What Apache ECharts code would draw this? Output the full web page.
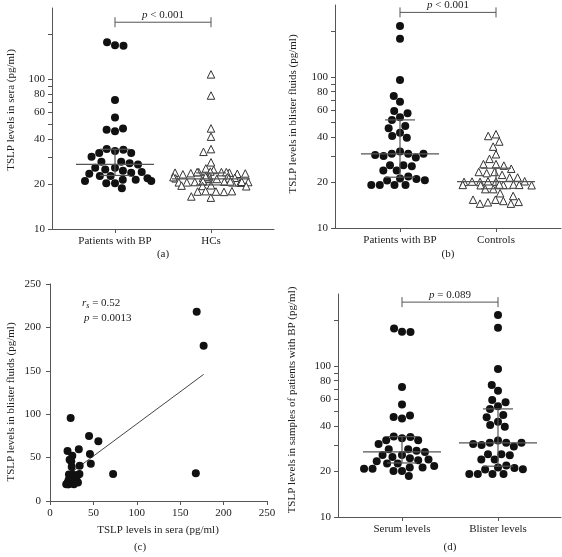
<!DOCTYPE html>
<html><head><meta charset="utf-8">
<script src="https://cdn.jsdelivr.net/npm/echarts@6/dist/echarts.min.js"></script>
<style>html,body{margin:0;padding:0;background:#fff}#c{width:562px;height:557px}</style>
</head><body><div id="c"></div><script>
// ---------------- data ----------------
const catsA = ['Patients with BP', 'HCs'];
const catsB = ['Patients with BP', 'Controls'];
const catsD = ['Serum levels', 'Blister levels'];
// paired patient values: serum[i] with blister[i]
const serum = [169, 177, 168, 72.7, 55.7, 45.0, 46.0, 47.0, 33.2, 34.2, 20.2, 25.7, 22.6, 24.5, 25.0, 23.8,
  33.9, 32.2, 32.2, 30.4, 28.1, 28.1, 27.5, 27.0, 25.7, 24.0, 23.4, 22.6, 21.8, 21.3, 21.3, 20.9, 20.9, 20.2, 18.7];
const blister = [218, 179, 32.1, 31.0, 68.7, 75.0, 54.2, 42.8, 59.6, 40.7, 57.5, 52.0, 47.4, 45.8, 39.6, 95.5,
  31.0, 30.0, 21.3, 24.0, 26.0, 29.3, 19.3, 21.9, 31.0, 26.0, 20.6, 25.6, 30.5, 19.3, 24.0, 21.1, 19.3, 20.7, 19.3];
const hcs = [108, 78, 47, 41.4, 34.2, 32.8, 27.9, 25.4, 24.8,
  24.0, 24.0, 23.8, 23.6, 23.4, 23.2, 23.5, 23.8, 24.0, 24.2, 24.0,
  22.4, 22.2, 22.0, 21.8, 21.8, 21.6, 21.6, 21.8, 22.0, 22.2, 22.4,
  20.8, 20.7, 20.6, 20.5, 20.5, 20.4, 20.5, 20.6, 20.7, 20.8, 20.9,
  19.6, 19.4, 19.3, 19.5, 17.9, 17.8, 17.7, 17.8, 17.9, 16.2, 16.5];
const controls = [41.8, 40.7, 37.4, 34.6, 30.8, 28.7, 26.5, 25.9, 26.5, 24.7,
  23.5, 23.1, 22.5, 23.5, 21.6, 21.6,
  20.3, 20.4, 20.2, 20.3, 20.4, 20.2,
  19.3, 19.4, 19.2, 19.3, 19.4, 19.2, 19.3,
  18.1, 18.1, 17.0, 15.4, 15.1, 14.8, 14.5, 14.5, 14.9, 15.4, 16.3];
// [Q1, median, Q3] as drawn
const iqrSerum = [22.8, 27.0, 34.1];
const iqrHCs = [19.7, 21.6, 23.7];
const iqrBlister = [21.7, 31.0, 52.0];
const iqrControls = [18.2, 20.3, 24.9];
// axis ticks
const logTicks = [10, 20, 30, 40, 50, 60, 70, 80, 90, 100, 200];
const logLabels = [10, 20, 40, 60, 80, 100];
const linTicks = [0, 50, 100, 150, 200, 250];
// statistics
const pTextA = '{i|p} < 0.001', pTextB = '{i|p} < 0.001', pTextD = '{i|p} = 0.089';
const rsValue = '0.52', pValueC = '0.0013';
const fitSlope = 0.741, fitIntercept = 14.7;

// ---------------- styles ----------------
const FONT = 'Liberation Serif';
const TXT = '#222';
const LINE = '#555';
const fs = 11;

const chart = echarts.init(document.getElementById('c'), null, {renderer: 'canvas'});

const grids = [], xAxes = [], yAxes = [], series = [];

function visibleLogGrid(box) {
  const gi = grids.length;
  grids.push({left: box.left, top: box.top, width: box.width, height: box.height, outerBoundsMode: 'none', containLabel: false});
  xAxes.push({gridIndex: gi, type: 'value', min: 0, max: 1,
    axisLine: {show: true, lineStyle: {color: LINE, width: 1}}, axisTick: {show: false}, axisLabel: {show: false}, splitLine: {show: false}});
  yAxes.push({gridIndex: gi, type: 'log', logBase: 10, min: 10, max: 300,
    axisLine: {show: true, lineStyle: {color: LINE, width: 1}},
    axisTick: {show: true, customValues: logTicks, length: 4, lineStyle: {color: LINE}},
    axisLabel: {customValues: logLabels, margin: 7, fontFamily: FONT, fontSize: fs, color: TXT},
    minorTick: {show: false}, splitLine: {show: false}});
  return gi;
}
function scatterGrid(box, cats) {
  const gi = grids.length;
  grids.push({left: box.left, top: box.top, width: box.width, height: box.height, outerBoundsMode: 'none', containLabel: false});
  xAxes.push({gridIndex: gi, type: 'category', data: cats, boundaryGap: true,
    jitter: 76, jitterOverlap: false, jitterMargin: 0.5,
    axisLine: {show: false}, axisTick: {show: true, alignWithLabel: true, length: 4, lineStyle: {color: LINE}},
    axisLabel: {margin: 7, fontFamily: FONT, fontSize: fs, color: TXT, interval: 0}, splitLine: {show: false}});
  yAxes.push({gridIndex: gi, type: 'log', logBase: 10, min: 10, max: 300, show: false});
  return gi;
}
function iqrSeries(gi, a, b) {
  series.push({type: 'custom', xAxisIndex: gi, yAxisIndex: gi, z: 5, silent: true,
    data: [[0, a[0], a[1], a[2]], [1, b[0], b[1], b[2]]],
    renderItem: function (params, api) {
      const c = api.value(0);
      const q1 = api.coord([c, api.value(1)]);
      const md = api.coord([c, api.value(2)]);
      const q3 = api.coord([c, api.value(3)]);
      const x = md[0];
      const st = {stroke: '#555', lineWidth: 1.2};
      return {type: 'group', children: [
        {type: 'line', shape: {x1: x - 39, y1: md[1], x2: x + 39, y2: md[1]}, style: st},
        {type: 'line', shape: {x1: x - 15, y1: q1[1], x2: x + 15, y2: q1[1]}, style: st},
        {type: 'line', shape: {x1: x - 15, y1: q3[1], x2: x + 15, y2: q3[1]}, style: st},
        {type: 'line', shape: {x1: x, y1: q1[1], x2: x, y2: q3[1]}, style: st}
      ]};
    }});
}
function bracketSeries(gi, yVal, text) {
  series.push({type: 'custom', xAxisIndex: gi, yAxisIndex: gi, z: 5, silent: true,
    data: [[0, 1, yVal]],
    renderItem: function (params, api) {
      const p0 = api.coord([api.value(0), api.value(2)]);
      const p1 = api.coord([api.value(1), api.value(2)]);
      const st = {stroke: LINE, lineWidth: 1};
      return {type: 'group', children: [
        {type: 'line', shape: {x1: p0[0], y1: p0[1], x2: p1[0], y2: p1[1]}, style: st},
        {type: 'line', shape: {x1: p0[0], y1: p0[1] - 5, x2: p0[0], y2: p0[1] + 5}, style: st},
        {type: 'line', shape: {x1: p1[0], y1: p1[1] - 5, x2: p1[0], y2: p1[1] + 5}, style: st},
        {type: 'text', x: (p0[0] + p1[0]) / 2, y: p0[1] - 2,
          style: {text: text, fill: TXT, fontFamily: FONT, fontSize: fs, align: 'center', verticalAlign: 'bottom',
            rich: {i: {fontStyle: 'italic', fontFamily: FONT, fontSize: fs, fill: TXT}}}}
      ]};
    }});
}
function dots(gi, cat, vals) {
  series.push({type: 'scatter', xAxisIndex: gi, yAxisIndex: gi, symbol: 'circle', symbolSize: 8,
    itemStyle: {color: '#111', opacity: 1}, data: vals.map(v => [cat, v])});
}
function tris(gi, cat, vals) {
  series.push({type: 'scatter', xAxisIndex: gi, yAxisIndex: gi, symbol: 'triangle', symbolSize: 7.5,
    itemStyle: {color: '#fff', borderColor: '#333', borderWidth: 1, opacity: 1}, data: vals.map(v => [cat, v])});
}

// Panel (a)
visibleLogGrid({left: 52, top: 8, width: 222, height: 221});
const gA = scatterGrid({left: 67, top: 8, width: 192, height: 221}, catsA);
dots(gA, 0, serum); tris(gA, 1, hcs);
iqrSeries(gA, iqrSerum, iqrHCs); bracketSeries(gA, 241, pTextA);

// Panel (b)
visibleLogGrid({left: 335, top: 5, width: 226, height: 223});
const gB = scatterGrid({left: 352, top: 5, width: 192, height: 223}, catsB);
dots(gB, 0, blister); tris(gB, 1, controls);
iqrSeries(gB, iqrBlister, iqrControls); bracketSeries(gB, 268, pTextB);

// Panel (c)
const gC = grids.length;
grids.push({left: 50, top: 284, width: 217, height: 217, outerBoundsMode: 'none', containLabel: false});
xAxes.push({gridIndex: gC, type: 'value', min: 0, max: 250, interval: 50,
  axisLine: {show: true, lineStyle: {color: LINE}}, axisTick: {show: true, length: 4, lineStyle: {color: LINE}},
  axisLabel: {margin: 7, fontFamily: FONT, fontSize: fs, color: TXT}, splitLine: {show: false}});
yAxes.push({gridIndex: gC, type: 'value', min: 0, max: 250, interval: 50,
  axisLine: {show: true, lineStyle: {color: LINE}}, axisTick: {show: true, length: 4, lineStyle: {color: LINE}},
  axisLabel: {margin: 9, fontFamily: FONT, fontSize: fs, color: TXT}, splitLine: {show: false}});
const xMin = Math.min(...serum), xMax = Math.max(...serum);
series.push({type: 'line', xAxisIndex: gC, yAxisIndex: gC, showSymbol: false, silent: true, z: 1,
  lineStyle: {color: '#444', width: 1},
  data: [[xMin, fitIntercept + fitSlope * xMin], [xMax, fitIntercept + fitSlope * xMax]]});
series.push({type: 'scatter', xAxisIndex: gC, yAxisIndex: gC, symbol: 'circle', symbolSize: 8, z: 2,
  itemStyle: {color: '#111', opacity: 1}, data: serum.map((v, i) => [v, blister[i]])});

// Panel (d)
visibleLogGrid({left: 338, top: 294, width: 223, height: 223});
const gD = scatterGrid({left: 354, top: 294, width: 192, height: 223}, catsD);
dots(gD, 0, serum); dots(gD, 1, blister);
iqrSeries(gD, iqrSerum, iqrBlister); bracketSeries(gD, 265, pTextD);

const T = (text, x, y, extra) => Object.assign({type: 'text', x: x, y: y,
  style: Object.assign({text: text, fill: TXT, fontFamily: FONT, fontSize: fs, align: 'center', verticalAlign: 'middle'}, extra || {})});
const R = (text, x, y) => ({type: 'text', x: x, y: y, rotation: Math.PI / 2,
  style: {text: text, fill: TXT, fontFamily: FONT, fontSize: fs, align: 'center', verticalAlign: 'middle'}});

const graphic = [
  R('TSLP levels in sera (pg/ml)', 11, 110),
  R('TSLP levels in blister fluids (pg/ml)', 293, 114),
  R('TSLP levels in blister fluids (pg/ml)', 11, 402),
  R('TSLP levels in samples of patients with BP (pg/ml)', 292, 400),
  T('TSLP levels in sera (pg/ml)', 158, 530),
  T('(a)', 163, 254), T('(b)', 448, 254), T('(c)', 140, 547), T('(d)', 450, 547),
  {type: 'text', x: 82, y: 303, style: {text: '{i|r}{s|s} = ' + rsValue, fill: TXT, fontFamily: FONT, fontSize: fs, verticalAlign: 'middle',
    rich: {i: {fontStyle: 'italic', fontFamily: FONT, fontSize: fs, fill: TXT}, s: {fontStyle: 'italic', fontFamily: FONT, fontSize: 8, fill: TXT, padding: [5, 0, 0, 0]}}}},
  {type: 'text', x: 84, y: 318, style: {text: '{i|p} = ' + pValueC, fill: TXT, fontFamily: FONT, fontSize: fs, verticalAlign: 'middle',
    rich: {i: {fontStyle: 'italic', fontFamily: FONT, fontSize: fs, fill: TXT}}}}
];

chart.setOption({
  animation: false,
  backgroundColor: '#fff',
  textStyle: {fontFamily: FONT},
  grid: grids, xAxis: xAxes, yAxis: yAxes, series: series, graphic: graphic
});
</script></body></html>
